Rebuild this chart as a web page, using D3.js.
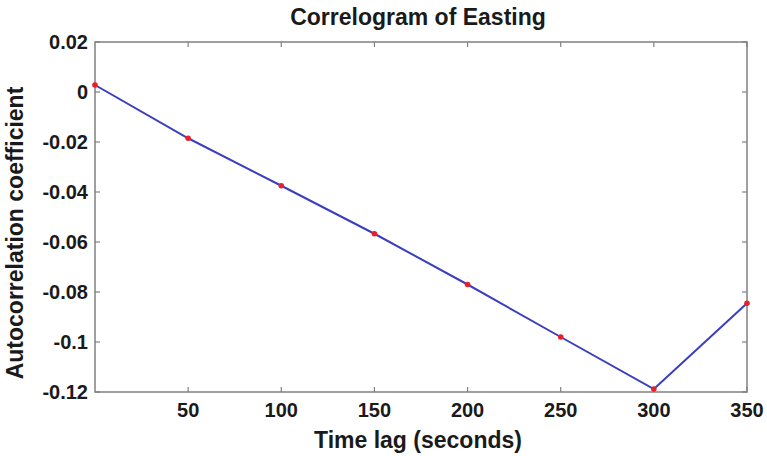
<!DOCTYPE html>
<html>
<head>
<meta charset="utf-8">
<script src="https://cdn.jsdelivr.net/npm/d3@7"></script>
<style>
  body { margin: 0; background: #fff; }
  text { font-family: "Liberation Sans", Arial, sans-serif; font-weight: bold; fill: #1a1a1a; }
</style>
</head>
<body>
<script>
var lags = [0, 50, 100, 150, 200, 250, 300, 350];
var coeffs = [0.0028, -0.0185, -0.0375, -0.0567, -0.077, -0.098, -0.1188, -0.0845];
var xTicks = [50, 100, 150, 200, 250, 300, 350];
var yTicks = [0.02, 0, -0.02, -0.04, -0.06, -0.08, -0.1, -0.12];

var width = 767, height = 456;
var mLeft = 95, mRight = 747, mTop = 42, mBottom = 392;

var svg = d3.select('body').append('svg')
  .attr('width', width)
  .attr('height', height);

var x = d3.scaleLinear().domain([0, 350]).range([mLeft, mRight]);
var y = d3.scaleLinear().domain([-0.12, 0.02]).range([mBottom, mTop]);

// frame
svg.append('rect')
  .attr('x', mLeft).attr('y', mTop)
  .attr('width', mRight - mLeft).attr('height', mBottom - mTop)
  .attr('fill', 'none').attr('stroke', '#808080').attr('stroke-width', 1.5);

// inward ticks on all four sides
var tl = 5;
svg.append('g').selectAll('line').data(xTicks).enter().append('line')
  .attr('x1', d => x(d)).attr('x2', d => x(d))
  .attr('y1', mBottom).attr('y2', mBottom - tl)
  .attr('stroke', '#808080').attr('stroke-width', 1.2);
svg.append('g').selectAll('line').data(xTicks).enter().append('line')
  .attr('x1', d => x(d)).attr('x2', d => x(d))
  .attr('y1', mTop).attr('y2', mTop + tl)
  .attr('stroke', '#808080').attr('stroke-width', 1.2);
svg.append('g').selectAll('line').data(yTicks).enter().append('line')
  .attr('x1', mLeft).attr('x2', mLeft + tl)
  .attr('y1', d => y(d)).attr('y2', d => y(d))
  .attr('stroke', '#808080').attr('stroke-width', 1.2);
svg.append('g').selectAll('line').data(yTicks).enter().append('line')
  .attr('x1', mRight).attr('x2', mRight - tl)
  .attr('y1', d => y(d)).attr('y2', d => y(d))
  .attr('stroke', '#808080').attr('stroke-width', 1.2);

// tick labels
svg.append('g').selectAll('text').data(xTicks).enter().append('text')
  .attr('x', d => x(d)).attr('y', 417)
  .attr('text-anchor', 'middle')
  .style('font-size', '20px')
  .text(d => d);
svg.append('g').selectAll('text').data(yTicks).enter().append('text')
  .attr('x', 88).attr('y', d => y(d) + 7)
  .attr('text-anchor', 'end')
  .style('font-size', '20px')
  .text(d => d);

// line + markers
var line = d3.line().x((d, i) => x(lags[i])).y(d => y(d));
svg.append('path').datum(coeffs)
  .attr('d', line)
  .attr('fill', 'none')
  .attr('stroke', '#3b3fbf')
  .attr('stroke-width', 2);
svg.append('g').selectAll('circle').data(coeffs).enter().append('circle')
  .attr('cx', (d, i) => x(lags[i])).attr('cy', d => y(d))
  .attr('r', 2.8)
  .attr('fill', '#e8202a');

// titles
svg.append('text')
  .attr('x', 418).attr('y', 25)
  .attr('text-anchor', 'middle')
  .style('font-size', '23px')
  .text('Correlogram of Easting');
svg.append('text')
  .attr('x', 418).attr('y', 448)
  .attr('text-anchor', 'middle')
  .style('font-size', '23px')
  .text('Time lag (seconds)');
svg.append('text')
  .attr('transform', 'translate(23,' + 233 + ') rotate(-90)')
  .attr('text-anchor', 'middle')
  .style('font-size', '23px')
  .text('Autocorrelation coefficient');
</script>
</body>
</html>
